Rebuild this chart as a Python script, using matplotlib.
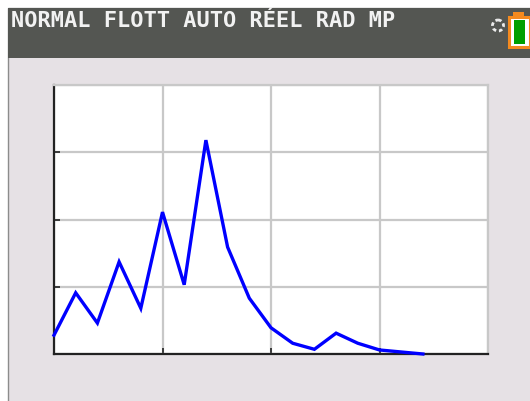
import matplotlib
matplotlib.use("Agg")
import matplotlib.pyplot as plt
from matplotlib.patches import Rectangle, Circle

status_text = "NORMAL FLOTT AUTO RÉEL RAD MP"
x_values = [0, 1, 2, 3, 4, 5, 6, 7, 8, 9, 10, 11, 12, 13, 14, 15, 16, 17]
y_values = [2.8, 9.1, 4.6, 13.7, 6.8, 21.1, 10.3, 31.8, 15.9, 8.3, 3.9, 1.6, 0.7, 3.1, 1.6, 0.6, 0.3, 0.0]
x_ticks = [0, 5, 10, 15, 20]
y_ticks = [0, 10, 20, 30, 40]

W, H = 530, 401
fig = plt.figure(figsize=(W / 100, H / 100), dpi=100, facecolor="white")

# calculator screen chrome, in pixel coordinates
bg = fig.add_axes([0, 0, 1, 1])
bg.set_xlim(0, W)
bg.set_ylim(H, 0)
bg.axis("off")
bg.add_patch(Rectangle((7.5, 7.5), W, H, fc="#e6e1e5", ec="#8c8c8c", lw=1))
bg.add_patch(Rectangle((8, 8), W, 50, fc="#545652", ec="none"))
bg.text(11, 21, status_text, color="#f2f2f2", family="DejaVu Sans Mono", weight="bold",
        fontsize=15.8, va="center", ha="left")

# battery and busy indicator
bg.add_patch(Rectangle((508.5, 16.5), 21, 30, fc="white", ec="#f58a1f", lw=2.2))
bg.add_patch(Rectangle((513, 12), 11, 4, fc="#f58a1f", ec="none"))
bg.add_patch(Rectangle((514, 20), 11, 24, fc="#00a000", ec="none"))
bg.add_patch(Circle((498, 25.5), 5.5, fc="none", ec="#ececec", lw=2, ls=(0, (1.3, 1))))

# plot area: 54..488 px wide, 85..354 px high
ax = fig.add_axes([54 / W, 1 - 354 / H, (488 - 54) / W, (354 - 85) / H])
ax.set_facecolor("white")
ax.plot(x_values, y_values, color="#0000ff", lw=2.4, solid_joinstyle="miter", clip_on=False, zorder=3)
ax.set_xlim(0, 20)
ax.set_ylim(0, 40)
ax.set_xticks(x_ticks)
ax.set_yticks(y_ticks)
ax.set_xticklabels([])
ax.set_yticklabels([])
ax.grid(True, color="#c8c8c8", lw=1.6)
ax.set_axisbelow(True)
ax.tick_params(direction="in", length=4, width=1.2, color="#222222")
for side in ["top", "right"]:
    ax.spines[side].set_color("#c8c8c8")
    ax.spines[side].set_linewidth(1.6)
for side in ["left", "bottom"]:
    ax.spines[side].set_color("#222222")
    ax.spines[side].set_linewidth(1.6)

fig.savefig("out.png", dpi=100, facecolor=fig.get_facecolor())
